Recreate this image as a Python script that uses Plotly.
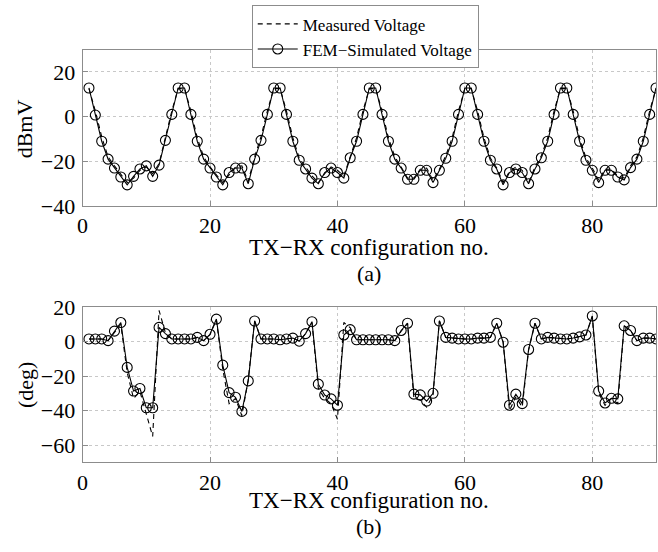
import plotly.graph_objects as go

config_no = list(range(1, 91))

voltage_sim = [12.8, 0.7, -11, -19, -23, -27, -30.5, -26.7, -23.4, -22,
               -26.7, -21.7, -10.6, 1, 12.8, 12.8, 1, -11, -19, -23,
               -27, -30.5, -25, -23, -23, -30, -19, -10.6, 1, 12.8,
               12.8, 1, -11, -19.5, -23.4, -27.5, -30, -25, -23, -25,
               -27.5, -18.4, -11, 1, 12.8, 12.8, 1, -11, -19, -23,
               -28, -28, -24, -24, -29.5, -24, -18.6, -11, 1, 12.8,
               12.8, 1, -11, -19.5, -23.4, -30.5, -25, -23.4, -25, -30,
               -23.4, -18.4, -11, 1, 12.8, 12.8, 1, -11, -19.5, -24,
               -29.5, -24, -24, -27, -28.3, -22.8, -19, -11, 1, 12.8]

voltage_meas = [12.5, 2.5, -9, -18, -22, -26, -29.5, -27.5, -24, -22.5,
                -25.5, -21, -9, 2.5, 12.5, 12.5, 2.5, -9.5, -18, -22.5,
                -26, -29.5, -26, -22.5, -22, -29, -18, -9, 2.5, 12.5,
                12.5, 2.5, -9.5, -18.5, -22.5, -26.5, -29.5, -25.5, -22.5, -24,
                -26.5, -17.5, -9.5, 2.5, 12.5, 12.5, 2.5, -9.5, -18, -22.5,
                -27.5, -27.5, -23.5, -23, -28.5, -23.5, -17.5, -9.5, 2.5, 12.5,
                12.5, 2.5, -9.5, -18.5, -23, -29.5, -24.5, -22.5, -24, -29.5,
                -22.5, -17.5, -9.5, 2.5, 12.5, 12.5, 2.5, -9.5, -18.5, -23,
                -28.5, -23.5, -23.5, -26.5, -27.5, -22, -18, -9.5, 2.5, 12.5]

phase_sim = [1.5, 1.5, 1.5, 0.5, 6, 11, -15, -28.7, -27.2, -38.4,
             -38.4, 8.2, 4.6, 1.5, 1.5, 1.5, 1.5, 2.4, 0.5, 4.2,
             13, -13.7, -29.6, -32.3, -40.5, -22.8, 11.9, 1.5, 1.5, 1.5,
             1, 1.5, 2, 0.2, 4.6, 11.5, -24.7, -31, -33.2, -36.9,
             3.8, 6.9, 1, 1, 1, 1, 1, 1, 0.5, 6.4,
             10.6, -30.5, -30.9, -34.5, -30, 11.9, 2.4, 2, 1.5, 1.5,
             1.5, 2, 2, 2.4, 10.6, -0.4, -36.9, -30.5, -36, -4.6,
             10.6, 1.5, 2.4, 2, 1.5, 1.5, 2, 2.7, 3.8, 14.8,
             -28.7, -35.6, -32.9, -33.2, 9.1, 6.4, 0.5, 2, 2, 1.5]

phase_meas = [1.5, 1.5, 1.5, 0.5, 5, 10, -18, -33, -29, -42,
              -55, 18, 5, 1.5, 1.5, 1.5, 1.5, 2.4, 0.5, 4,
              12.5, -16, -36, -33, -43, -22, 12, 1.5, 1.5, 1.5,
              1, 1.5, 2, 0.2, 4.5, 11, -27, -33, -36, -45,
              11, 8, 1, 1, 1, 1, 1, 1, 0.5, 6,
              10.5, -33, -34, -38, -31, 12, 2.4, 2, 1.5, 1.5,
              1.5, 2, 2, 2.4, 10.5, 0, -40, -32, -38, -5,
              10.5, 1.5, 2.4, 2, 1.5, 1.5, 2, 2.7, 3.8, 14.5,
              -30, -37, -33, -36, 9, 6.4, 0.5, 2, 2, 1.5]

x_ticks = [0, 20, 40, 60, 80]
volt_ticks = [-40, -20, 0, 20]
phase_ticks = [-60, -40, -20, 0, 20]

W, H = 658, 552
FONT = "Liberation Serif, Times New Roman, serif"

fig = go.Figure()

dash_style = "5px,4px"
marker_style = dict(symbol="circle-open", size=10, color="black", line=dict(width=1.1))

# top panel
fig.add_trace(go.Scatter(x=config_no, y=voltage_meas, mode="lines", name="Measured Voltage",
                         line=dict(color="black", width=1.1, dash=dash_style), xaxis="x", yaxis="y"))
fig.add_trace(go.Scatter(x=config_no, y=voltage_sim, mode="lines+markers", name="FEM\u2212Simulated Voltage",
                         line=dict(color="black", width=1.1), marker=marker_style,
                         xaxis="x", yaxis="y"))
# bottom panel
fig.add_trace(go.Scatter(x=config_no, y=phase_meas, mode="lines", showlegend=False,
                         line=dict(color="black", width=1.1, dash=dash_style), xaxis="x2", yaxis="y2"))
fig.add_trace(go.Scatter(x=config_no, y=phase_sim, mode="lines+markers", showlegend=False,
                         line=dict(color="black", width=1.1), marker=marker_style,
                         xaxis="x2", yaxis="y2"))

xdom = [77.3 / W, 656 / W]
top_dom = [1 - 203.3 / H, 1 - 39.3 / H]
bot_dom = [1 - 471.7 / H, 1 - 309 / H]

axis_common = dict(showline=True, mirror=True, linecolor="#8c8c8c", linewidth=1,
                   ticks="inside", ticklen=5, tickcolor="#8c8c8c",
                   showgrid=True, gridcolor="#c8c8c8", griddash="dot", gridwidth=1,
                   zeroline=False, tickfont=dict(family=FONT, size=22, color="black"))

fig.update_layout(
    width=W, height=H,
    margin=dict(l=0, r=0, t=0, b=0),
    paper_bgcolor="white", plot_bgcolor="white",
    font=dict(family=FONT, color="black"),
    xaxis=dict(domain=xdom, range=[0, 90], tickvals=x_ticks, anchor="y", **axis_common),
    yaxis=dict(domain=top_dom, range=[-40, 30], tickvals=volt_ticks, anchor="x",
               ticklabelstandoff=2, **axis_common),
    xaxis2=dict(domain=xdom, range=[0, 90], tickvals=x_ticks, anchor="y2", **axis_common),
    yaxis2=dict(domain=bot_dom, range=[-70, 20], tickvals=phase_ticks, anchor="x2",
                ticklabelstandoff=2, **axis_common),
    legend=dict(x=248 / W, y=1 + 7 / H, xanchor="left", yanchor="top",
                bgcolor="white", bordercolor="#8c8c8c", borderwidth=1, itemwidth=40,
                font=dict(family=FONT, size=17, color="black")),
    showlegend=True,
)

def ann(text, xpx, ypx, size, angle=0):
    fig.add_annotation(text=text, xref="paper", yref="paper", x=xpx / W, y=1 - ypx / H,
                       xanchor="center", yanchor="middle", showarrow=False, textangle=angle,
                       font=dict(family=FONT, size=size, color="black"))

ann("dBmV", 19, 122, 22, -90)
ann("TX\u2212RX configuration no.", 366, 247, 23)
ann("(a)", 366, 274, 22)
ann("(deg)", 19, 391, 22, -90)
ann("TX\u2212RX configuration no.", 366, 512, 23)
ann("(b)", 366, 539, 22)

fig.write_html("out.html")
